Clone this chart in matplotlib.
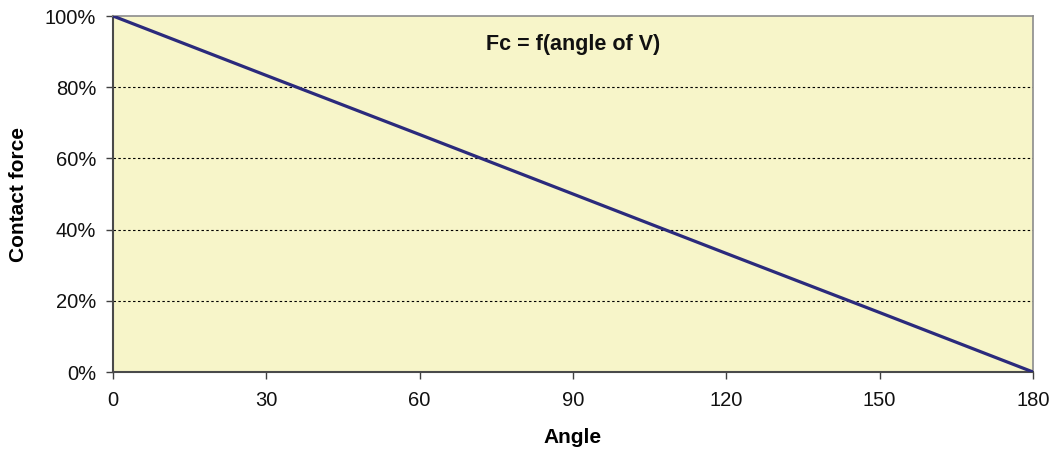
import matplotlib
matplotlib.use("Agg")
import matplotlib.pyplot as plt
from matplotlib.ticker import FuncFormatter

# Contact force as a function of the angle of V
angles = [0, 30, 60, 90, 120, 150, 180]
contact_force = [100.0, 83.3, 66.7, 50.0, 33.3, 16.7, 0.0]

x_ticks = [0, 30, 60, 90, 120, 150, 180]
y_ticks = [0, 20, 40, 60, 80, 100]

plt.rcParams['font.family'] = ['Liberation Sans', 'DejaVu Sans']

fig = plt.figure(figsize=(10.52, 4.51), dpi=100)
ax = fig.add_axes([113 / 1052, 1 - 372 / 451, 920 / 1052, 356 / 451])
ax.set_facecolor('#f7f5c9')

ax.plot(angles, contact_force, color='#2b2a7c', linewidth=2.3, solid_capstyle='round', zorder=3)

ax.set_xlim(0, 180)
ax.set_ylim(0, 100)
ax.set_xticks(x_ticks)
ax.set_yticks(y_ticks)
ax.yaxis.set_major_formatter(FuncFormatter(lambda v, _: f"{v:.0f}%"))

for y in y_ticks[1:-1]:
    ax.axhline(y, color='black', linewidth=0.8, linestyle=(0, (2.2, 2.2)), zorder=1)

ax.tick_params(axis='both', direction='out', length=5, width=1, color='#404040',
               labelsize=14.5, labelcolor='#111111')
ax.tick_params(axis='y', pad=7)
ax.tick_params(axis='x', pad=9)

for side in ('left', 'bottom'):
    ax.spines[side].set_color('#4a4a4a')
    ax.spines[side].set_linewidth(1.5)
for side in ('top', 'right'):
    ax.spines[side].set_color('#8c8c8c')
    ax.spines[side].set_linewidth(1.2)

ax.set_xlabel('Angle', fontsize=15, fontweight='bold', va='center')
ax.set_ylabel('Contact force', fontsize=15, fontweight='bold', va='center')
ax.xaxis.set_label_coords(0.5, -0.183)
ax.yaxis.set_label_coords(-0.103, 0.5)

ax.text(0.5, 0.92, 'Fc = f(angle of V)', transform=ax.transAxes, ha='center', va='center',
        fontsize=15.5, fontweight='bold', color='#111111')

fig.savefig('out.png', dpi=100)
